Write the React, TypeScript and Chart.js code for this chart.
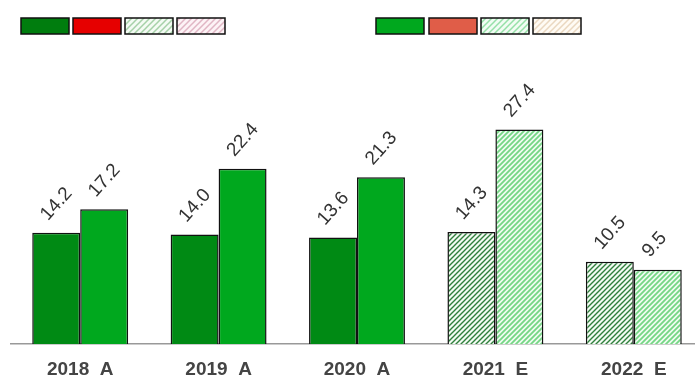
import React, { useEffect, useRef } from "react";
import { Chart, registerables } from "chart.js";

Chart.register(...registerables);

// ---- data ----
const categories = ["2018  A", "2019  A", "2020  A", "2021  E", "2022  E"];
const seriesA = [14.2, 14.0, 13.6, 14.3, 10.5];
const seriesB = [17.2, 22.4, 21.3, 27.4, 9.5];
const isEstimate = [false, false, false, true, true];

const FONT = "'Liberation Sans', Arial, Helvetica, sans-serif";

function makeHatch(
  ctx: CanvasRenderingContext2D,
  bg: string,
  stripe: string,
  period: number,
  lw: number
) {
  const c = document.createElement("canvas");
  c.width = period;
  c.height = period;
  const g = c.getContext("2d")!;
  g.fillStyle = bg;
  g.fillRect(0, 0, period, period);
  g.strokeStyle = stripe;
  g.lineWidth = lw;
  g.beginPath();
  g.moveTo(-1, period + 1);
  g.lineTo(period + 1, -1);
  g.moveTo(-2, 2);
  g.lineTo(2, -2);
  g.moveTo(period - 2, period + 2);
  g.lineTo(period + 2, period - 2);
  g.stroke();
  return ctx.createPattern(c, "repeat")!;
}

export default function App() {
  const ref = useRef<HTMLCanvasElement | null>(null);

  useEffect(() => {
    const canvas = ref.current!;
    const ctx = canvas.getContext("2d")!;

    const darkGreen = "#008a14";
    const brightGreen = "#00a81e";
    const hatchA = makeHatch(ctx, "#f3fbf3", "#2f7f3c", 5, 1.4);
    const hatchB = makeHatch(ctx, "#effcf1", "#74d684", 5, 1.8);

    const legendSwatches = [
      { x: 21, fill: "#007d0e" },
      { x: 73, fill: "#e60000" },
      { x: 125, fill: makeHatch(ctx, "#f4fbf4", "#a6d1a8", 6, 1.5) },
      { x: 177, fill: makeHatch(ctx, "#fdf3f6", "#e0b6c4", 6, 1.5) },
      { x: 376, fill: "#00a81e" },
      { x: 429, fill: "#e05d48" },
      { x: 481, fill: makeHatch(ctx, "#f2fcf4", "#96e0a8", 6, 1.5) },
      { x: 533, fill: makeHatch(ctx, "#fffbf4", "#ead8c0", 6, 1.5) },
    ];

    const legendPlugin = {
      id: "swatchLegend",
      afterDraw(chart: any) {
        const c = chart.ctx as CanvasRenderingContext2D;
        c.save();
        legendSwatches.forEach((s) => {
          c.fillStyle = s.fill as any;
          c.fillRect(s.x, 18, 48, 16);
          c.strokeStyle = "#111";
          c.lineWidth = 1.5;
          c.strokeRect(s.x, 18, 48, 16);
        });
        c.restore();
      },
    };

    const valueLabels = {
      id: "valueLabels",
      afterDatasetsDraw(chart: any) {
        const c = chart.ctx as CanvasRenderingContext2D;
        chart.data.datasets.forEach((ds: any, i: number) => {
          const meta = chart.getDatasetMeta(i);
          meta.data.forEach((bar: any, j: number) => {
            const v = ds.data[j];
            c.save();
            c.translate(bar.x - 12, bar.y - 15);
            c.rotate(-0.84);
            c.font = `19px ${FONT}`;
            c.fillStyle = "#333";
            c.textAlign = "left";
            c.textBaseline = "middle";
            c.fillText(v.toFixed(1), 0, 0);
            c.restore();
          });
        });
      },
    };

    const chart = new Chart(canvas, {
      type: "bar",
      data: {
        labels: categories,
        datasets: [
          {
            label: "A",
            data: seriesA,
            backgroundColor: isEstimate.map((e) => (e ? hatchA : darkGreen)) as any,
            borderColor: "#111",
            borderWidth: 1.5,
          },
          {
            label: "B",
            data: seriesB,
            backgroundColor: isEstimate.map((e) => (e ? hatchB : brightGreen)) as any,
            borderColor: "#111",
            borderWidth: 1.5,
          },
        ],
      },
      options: {
        responsive: false,
        animation: false,
        devicePixelRatio: 1,
        layout: { padding: { left: 11, right: 0, top: 70, bottom: 0 } },
        datasets: {
          bar: { categoryPercentage: 0.693, barPercentage: 1 },
        },
        plugins: {
          legend: { display: false },
          tooltip: { enabled: false },
        },
        scales: {
          x: {
            grid: { display: false, drawTicks: false },
            border: { display: true, color: "#999", width: 1.5 },
            ticks: {
              font: { family: FONT, size: 19, weight: "bold" },
              color: "#444",
              padding: 14,
              maxRotation: 0,
              autoSkip: false,
            },
            afterFit: (scale: any) => {
              scale.height = 35;
            },
          },
          y: { display: false, min: 0, max: 35 },
        },
      },
      plugins: [legendPlugin, valueLabels],
    });

    return () => chart.destroy();
  }, []);

  return (
    <div
      style={{
        position: "fixed",
        left: 0,
        top: 0,
        width: 695,
        height: 379,
        overflow: "hidden",
        background: "#fff",
      }}
    >
      <canvas ref={ref} width={703} height={379} style={{ display: "block" }} />
    </div>
  );
}
